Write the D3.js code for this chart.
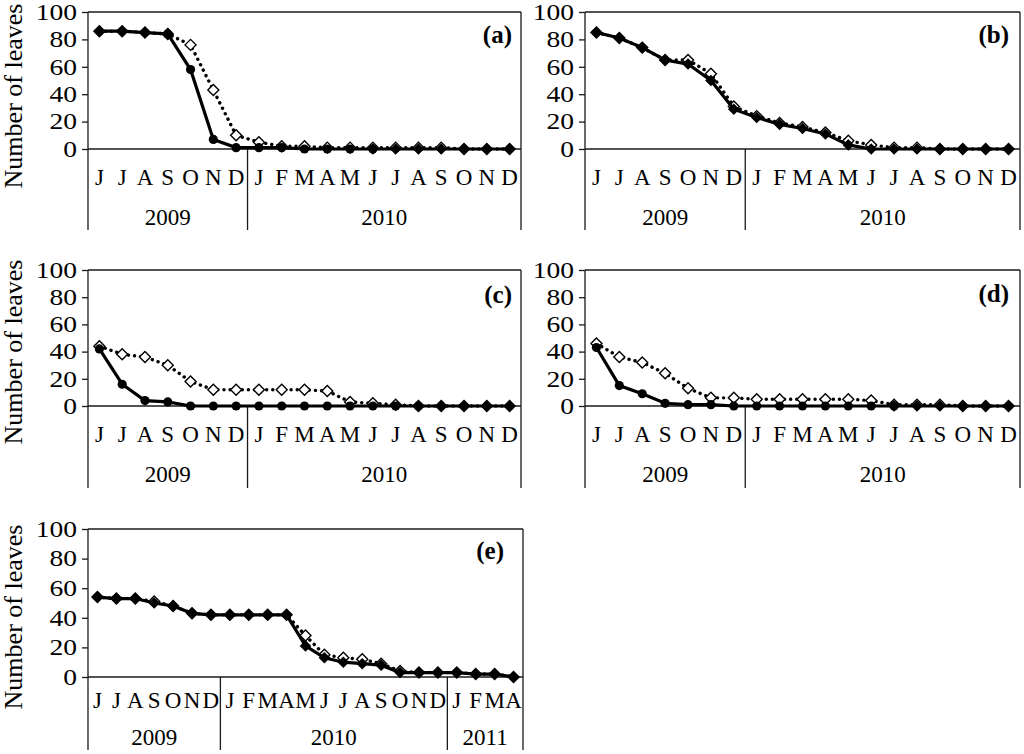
<!DOCTYPE html>
<html><head><meta charset="utf-8">
<script src="https://cdn.jsdelivr.net/npm/d3@7"></script>
<style>
body{margin:0;background:#fff} svg{display:block}
svg text{font-family:"Liberation Serif","Times New Roman",Times,"Nimbus Roman","DejaVu Serif",serif !important;}
</style>
</head><body>
<svg id="chart" width="1024" height="754"></svg>
<script>
// ---------- data ----------
const months19 = ["J","J","A","S","O","N","D","J","F","M","A","M","J","J","A","S","O","N","D"];
const months23 = ["J","J","A","S","O","N","D","J","F","M","A","M","J","J","A","S","O","N","D","J","F","M","A"];
const years2 = ["2009","2010"];
const yearSpans2 = [7,12];
const years3 = ["2009","2010","2011"];
const yearSpans3 = [7,12,4];
const yTicks = [0,20,40,60,80,100];
const panelLabels = ["(a)","(b)","(c)","(d)","(e)"];
const N = null;

// panel (a)
const aOpen    = [86,86,85,84,76,43,10,5,2,2,1,1,1,1,1,1,0,0,0];
const aCircle  = [N,N,N,84,58,7,1,1,1,0,0,0,0,N,N,N,N,N,N];
const aDiamond = [86,86,85,84,N,N,N,N,N,N,N,N,0,0,0,0,0,0,0];
// panel (b)
const bOpen    = [85,81,74,65,65,55,31,24,19,16,12,6,3,1,1,0,0,0,0];
const bCircle  = [];
const bDiamond = [85,81,74,65,62,50,29,23,18,15,11,3,0,0,0,0,0,0,0];
// panel (c)
const cOpen    = [44,38,36,30,18,12,12,12,12,12,11,3,2,1,0,0,0,0,0];
const cCircle  = [42,16,4,3,0,0,0,0,0,0,0,0,0,0,0,N,N,N,N];
const cDiamond = [N,N,N,N,N,N,N,N,N,N,N,N,N,N,0,0,0,0,0];
// panel (d)
const dOpen    = [46,36,32,24,13,6,6,5,5,5,5,5,4,1,1,1,0,0,0];
const dCircle  = [43,15,9,2,1,1,0,0,0,0,0,0,0,0,N,N,N,N,N];
const dDiamond = [N,N,N,N,N,N,N,N,N,N,N,N,N,0,0,0,0,0,0];
// panel (e)
const eOpen    = [54,53,53,51,48,43,42,42,42,42,42,28,15,13,12,9,4,3,3,3,2,2,0];
const eCircle  = [];
const eDiamond = [54,53,53,50,48,43,42,42,42,42,42,21,13,10,9,8,3,3,3,3,2,2,0];

// ---------- layout ----------
const panels = [
  {label:panelLabels[0], months:months19, years:years2, spans:yearSpans2, open:aOpen, circle:aCircle, diamond:aDiamond,
   x0:88, x1:521, yTop:12, yZero:149, mDy:36, yrDy:76, bot:81, title:true, titleY:96, lblX:512, lblY:43},
  {label:panelLabels[1], months:months19, years:years2, spans:yearSpans2, open:bOpen, circle:bCircle, diamond:bDiamond,
   x0:585, x1:1020, yTop:12, yZero:149, mDy:36, yrDy:76, bot:81, title:false, lblX:1009, lblY:43},
  {label:panelLabels[2], months:months19, years:years2, spans:yearSpans2, open:cOpen, circle:cCircle, diamond:cDiamond,
   x0:88, x1:521, yTop:270, yZero:406, mDy:36, yrDy:76, bot:82, title:true, titleY:352, lblX:512, lblY:303},
  {label:panelLabels[3], months:months19, years:years2, spans:yearSpans2, open:dOpen, circle:dCircle, diamond:dDiamond,
   x0:585, x1:1020, yTop:270, yZero:406, mDy:36, yrDy:76, bot:82, title:false, lblX:1009, lblY:302},
  {label:panelLabels[4], months:months23, years:years3, spans:yearSpans3, open:eOpen, circle:eCircle, diamond:eDiamond,
   x0:88, x1:523, yTop:529, yZero:677, mDy:31, yrDy:68, bot:73, title:true, titleY:617, lblX:504, lblY:559}
];

const svg = d3.select("#chart");
const AX = "#1a1a1a";
const diamondPath = r => `M0,${-r}L${r},0L0,${r}L${-r},0Z`;
const TICK_SX = 1.2;

panels.forEach(p => {
  const g = svg.append("g");
  const n = p.months.length;
  const x = d3.scaleBand().domain(d3.range(n)).range([p.x0, p.x1]);
  const cx = i => x(i) + x.bandwidth()/2;
  const y = d3.scaleLinear().domain([0,100]).range([p.yZero, p.yTop]);
  const bottom = p.yZero + p.bot;

  // y axis ticks + labels
  const gy = g.append("g").attr("transform", `translate(${p.x0},0)`)
    .call(d3.axisLeft(y).tickValues(yTicks).tickSize(6).tickPadding(5));
  gy.attr("font-family", null);
  gy.select(".domain").remove();
  gy.selectAll("line").attr("stroke", AX).attr("stroke-width", 1.3);
  gy.selectAll("text").attr("font-size", 23).attr("fill", "#000")
    .attr("x", -11 / TICK_SX).attr("transform", `scale(${TICK_SX},1)`);

  // frame lines
  g.append("line").attr("x1", p.x0).attr("x2", p.x0).attr("y1", p.yTop).attr("y2", bottom).attr("stroke", AX).attr("stroke-width", 1.3);
  g.append("line").attr("x1", p.x1).attr("x2", p.x1).attr("y1", p.yTop).attr("y2", bottom).attr("stroke", AX).attr("stroke-width", 1.3);
  g.append("line").attr("x1", p.x0).attr("x2", p.x1).attr("y1", p.yTop).attr("y2", p.yTop).attr("stroke", AX).attr("stroke-width", 1.3);
  g.append("line").attr("x1", p.x0).attr("x2", p.x1).attr("y1", y(0)).attr("y2", y(0)).attr("stroke", AX).attr("stroke-width", 1.3);

  // month labels via axis
  const gx = g.append("g").attr("transform", `translate(0,${p.yZero})`)
    .call(d3.axisBottom(x).tickSize(0).tickFormat(i => p.months[i]));
  gx.attr("font-family", null);
  gx.select(".domain").remove();
  gx.selectAll("text").attr("y", p.mDy).attr("dy", 0).attr("font-size", 23).attr("fill", "#000");

  // year groups
  let start = 0;
  p.years.forEach((yr, k) => {
    const end = start + p.spans[k];
    const xs = x(start), xe = end < n ? x(end) : p.x1;
    if (end < n) {
      g.append("line").attr("x1", xe).attr("x2", xe).attr("y1", p.yZero).attr("y2", bottom).attr("stroke", AX).attr("stroke-width", 1.3);
    }
    g.append("text").attr("x", (xs + xe)/2).attr("y", p.yZero + p.yrDy)
      .attr("text-anchor", "middle").attr("font-size", 23).text(yr);
    start = end;
  });

  // series
  const line = d3.line().defined(d => d != null).x((d,i) => cx(i)).y(d => y(d));
  g.append("path").attr("d", line(p.open)).attr("fill", "none").attr("stroke", "#000")
    .attr("stroke-width", 3.4).attr("stroke-dasharray", "0.1 6").attr("stroke-linecap", "round");
  g.selectAll(".od").data(p.open.map((v,i)=>({v,i})).filter(d=>d.v!=null)).join("path")
    .attr("d", diamondPath(5.5)).attr("transform", d => `translate(${cx(d.i)},${y(d.v)})`)
    .attr("fill", "#fff").attr("stroke", "#000").attr("stroke-width", 1.4);
  if (p.circle.length) {
    g.append("path").attr("d", line(p.circle)).attr("fill", "none").attr("stroke", "#000").attr("stroke-width", 3.2);
    g.selectAll(".fc").data(p.circle.map((v,i)=>({v,i})).filter(d=>d.v!=null)).join("circle")
      .attr("cx", d => cx(d.i)).attr("cy", d => y(d.v)).attr("r", 4.6).attr("fill", "#000");
  }
  g.append("path").attr("d", line(p.diamond)).attr("fill", "none").attr("stroke", "#000").attr("stroke-width", 3.2);
  g.selectAll(".fd").data(p.diamond.map((v,i)=>({v,i})).filter(d=>d.v!=null)).join("path")
    .attr("d", diamondPath(5.8)).attr("transform", d => `translate(${cx(d.i)},${y(d.v)})`).attr("fill", "#000");

  // panel label
  g.append("text").attr("x", p.lblX).attr("y", p.lblY).attr("text-anchor", "end")
    .attr("font-size", 25).attr("font-weight", "bold").text(p.label);

  // y title
  if (p.title) {
    g.append("text").attr("transform", `translate(22,${p.titleY}) rotate(-90)`)
      .attr("text-anchor", "middle").attr("font-size", 26).text("Number of leaves");
  }
});
</script>
</body></html>
